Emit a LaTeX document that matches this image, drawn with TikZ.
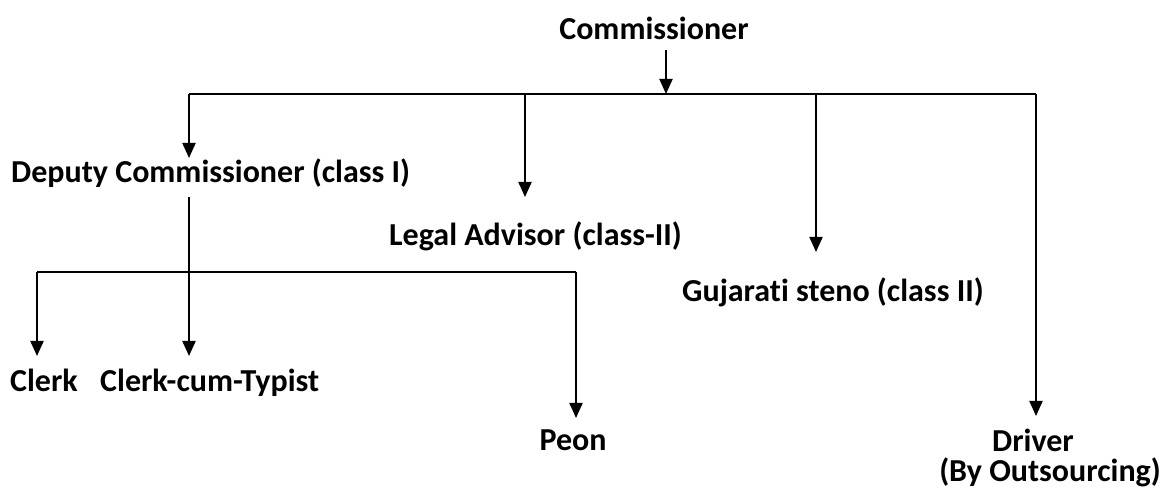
\documentclass[tikz,border=0pt]{standalone}
\usepackage{fontspec}
\setmainfont{Carlito}[Ligatures=NoCommon]
\usetikzlibrary{arrows.meta}
\begin{document}
\begin{tikzpicture}[x=1pt,y=-1pt,
  lbl/.style={font=\fontsize{32}{37}\selectfont\bfseries, inner sep=0pt, anchor=base west},
  lblc/.style={lbl, anchor=base},
  arr/.style={line width=2pt, -{Triangle[width=13pt,length=15pt]}},
  ln/.style={line width=2pt}]
\useasboundingbox (0,0) rectangle (1163,494);
\node[lblc] (com) at (654,40) {Commissioner};
\node[lbl] (dep) at (11,183) {Deputy Commissioner (class I)};
\node[lbl] (leg) at (389,246) {Legal Advisor (class-II)};
\node[lbl] (guj) at (682,302) {Gujarati steno (class II)};
\node[lbl] (clk) at (10,392) {Clerk};
\node[lbl] (cct) at (100,392) {Clerk-cum-Typist};
\node[lblc] (peon) at (573,450) {Peon};
\node[lblc] (drv) at (1033,452) {Driver};
\node[lblc] (bo) at (1050,482) {(By Outsourcing)};
% junctions and arrow ends
\coordinate (c0) at (666,50);
\coordinate (j0) at (666,94);
\coordinate (jL) at (189,94);
\coordinate (jR) at (1036,94);
\coordinate (tDep) at (189,158);
\coordinate (jLeg) at (525,94);
\coordinate (tLeg) at (525,197);
\coordinate (jGuj) at (816,94);
\coordinate (tGuj) at (816,252);
\coordinate (tDrv) at (1036,416);
\coordinate (d0) at (189,197);
\coordinate (tCct) at (189,356);
\coordinate (h1) at (37,272);
\coordinate (h2) at (576,272);
\coordinate (tClk) at (37,356);
\coordinate (tPeon) at (576,418);
\draw[arr] (c0) -- (j0);
\draw[ln] (jL) -- (jR);
\draw[arr] (jL) -- (tDep);
\draw[arr] (jLeg) -- (tLeg);
\draw[arr] (jGuj) -- (tGuj);
\draw[arr] (jR) -- (tDrv);
\draw[arr] (d0) -- (tCct);
\draw[ln] (h1) -- (h2);
\draw[arr] (h1) -- (tClk);
\draw[arr] (h2) -- (tPeon);
\end{tikzpicture}
\end{document}
